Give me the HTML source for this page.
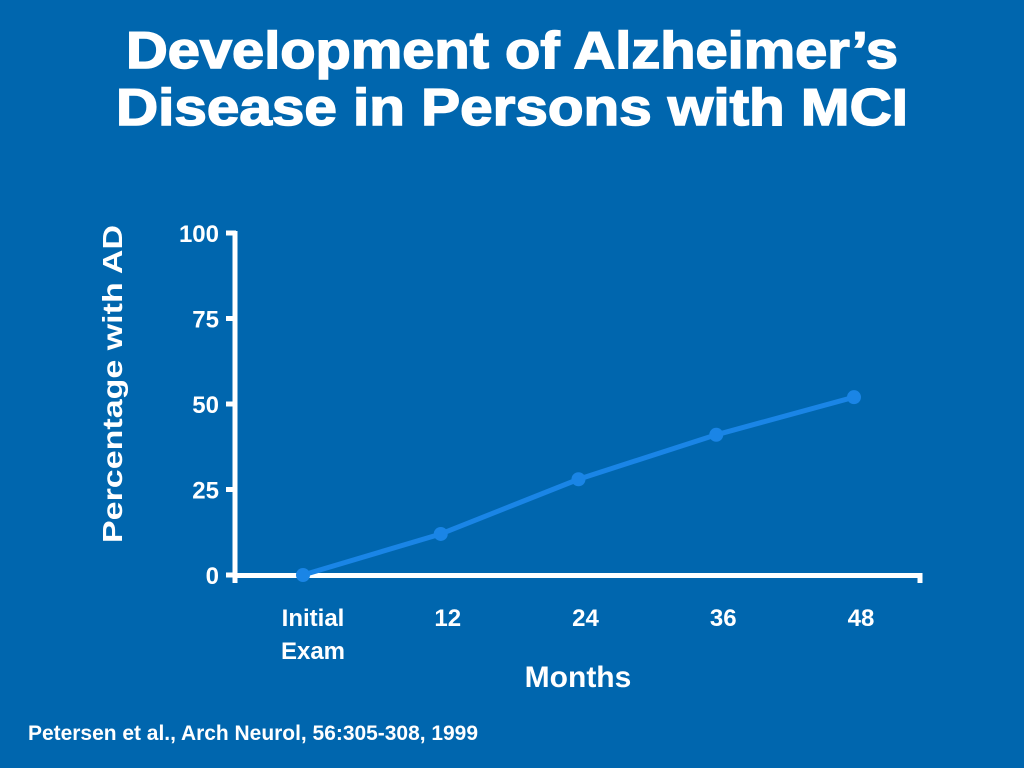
<!DOCTYPE html>
<html><head><meta charset="utf-8"><style>
html,body{margin:0;padding:0;background:#0066ae;}
svg{display:block;font-family:"Liberation Sans",Arial,sans-serif;font-weight:bold;}
</style></head><body>
<svg width="1024" height="768" viewBox="0 0 1024 768" xmlns="http://www.w3.org/2000/svg">
<rect x="0" y="0" width="1024" height="768" fill="#0066ae"/>
<text x="512" y="68" text-anchor="middle" fill="#fff" font-size="52" textLength="772" lengthAdjust="spacingAndGlyphs" stroke="#fff" stroke-width="1.5">Development of Alzheimer’s</text>
<text x="512" y="125" text-anchor="middle" fill="#fff" font-size="52" textLength="792" lengthAdjust="spacingAndGlyphs" stroke="#fff" stroke-width="1.5">Disease in Persons with MCI</text>
<text transform="translate(122,384) rotate(-90)" text-anchor="middle" fill="#fff" font-size="28" textLength="318" lengthAdjust="spacingAndGlyphs">Percentage with AD</text>
<g id="axes"></g>
<g id="ticks"></g>
<g id="series"></g>
<text x="578" y="687" text-anchor="middle" fill="#fff" font-size="30">Months</text>
<text x="28" y="740" fill="#fff" font-size="21" textLength="450" lengthAdjust="spacingAndGlyphs">Petersen et al., Arch Neurol, 56:305-308, 1999</text>
</svg>
<script>
const categories = ["Initial Exam","12","24","36","48"];
const values = [0,12,28,41,52];
const yTicks = [0,25,50,75,100];
const NS="http://www.w3.org/2000/svg";
const x0=303, dx=137.75;
function xs(i){return x0+i*dx;}
function ys(v){return 575-v*3.42;}
function mk(tag,attrs,parent){const e=document.createElementNS(NS,tag);for(const k in attrs)e.setAttribute(k,attrs[k]);parent.appendChild(e);return e;}
const axes=document.getElementById('axes'),ticks=document.getElementById('ticks'),series=document.getElementById('series');
let a=mk('line',{x1:235,y1:ys(100)-2,x2:235,y2:583,stroke:'#fff','stroke-width':5},axes);


a=mk('path',{d:'M235 575.5 H920 V583',fill:'none',stroke:'#fff','stroke-width':5},axes);


yTicks.forEach(v=>{
  const t=mk('line',{x1:226,y1:ys(v),x2:236,y2:ys(v),stroke:'#fff','stroke-width':5},axes);
  
  
  const l=mk('text',{x:219,y:ys(v)+9,'text-anchor':'end',fill:'#fff','font-size':24},ticks);
  l.textContent=v;
  
  
});
categories.forEach((c,i)=>{
  const parts=c.split(' ');
  parts.forEach((p,j)=>{
    const l=mk('text',{x:i===0?xs(i)+10:xs(i)+7,y:626+j*33,'text-anchor':'middle',fill:'#fff','font-size':24},ticks);
    l.textContent=p;
    
    
  });
});
const pts=values.map((v,i)=>xs(i)+','+ys(v)).join(' ');
const pl=mk('polyline',{points:pts,fill:'none',stroke:'#1a85e6','stroke-width':5,'stroke-linejoin':'round'},series);


values.forEach((v,i)=>{
  const c=mk('circle',{cx:xs(i),cy:ys(v),r:7,fill:'#1a85e6'},series);
  
  
});
</script>
</body></html>
